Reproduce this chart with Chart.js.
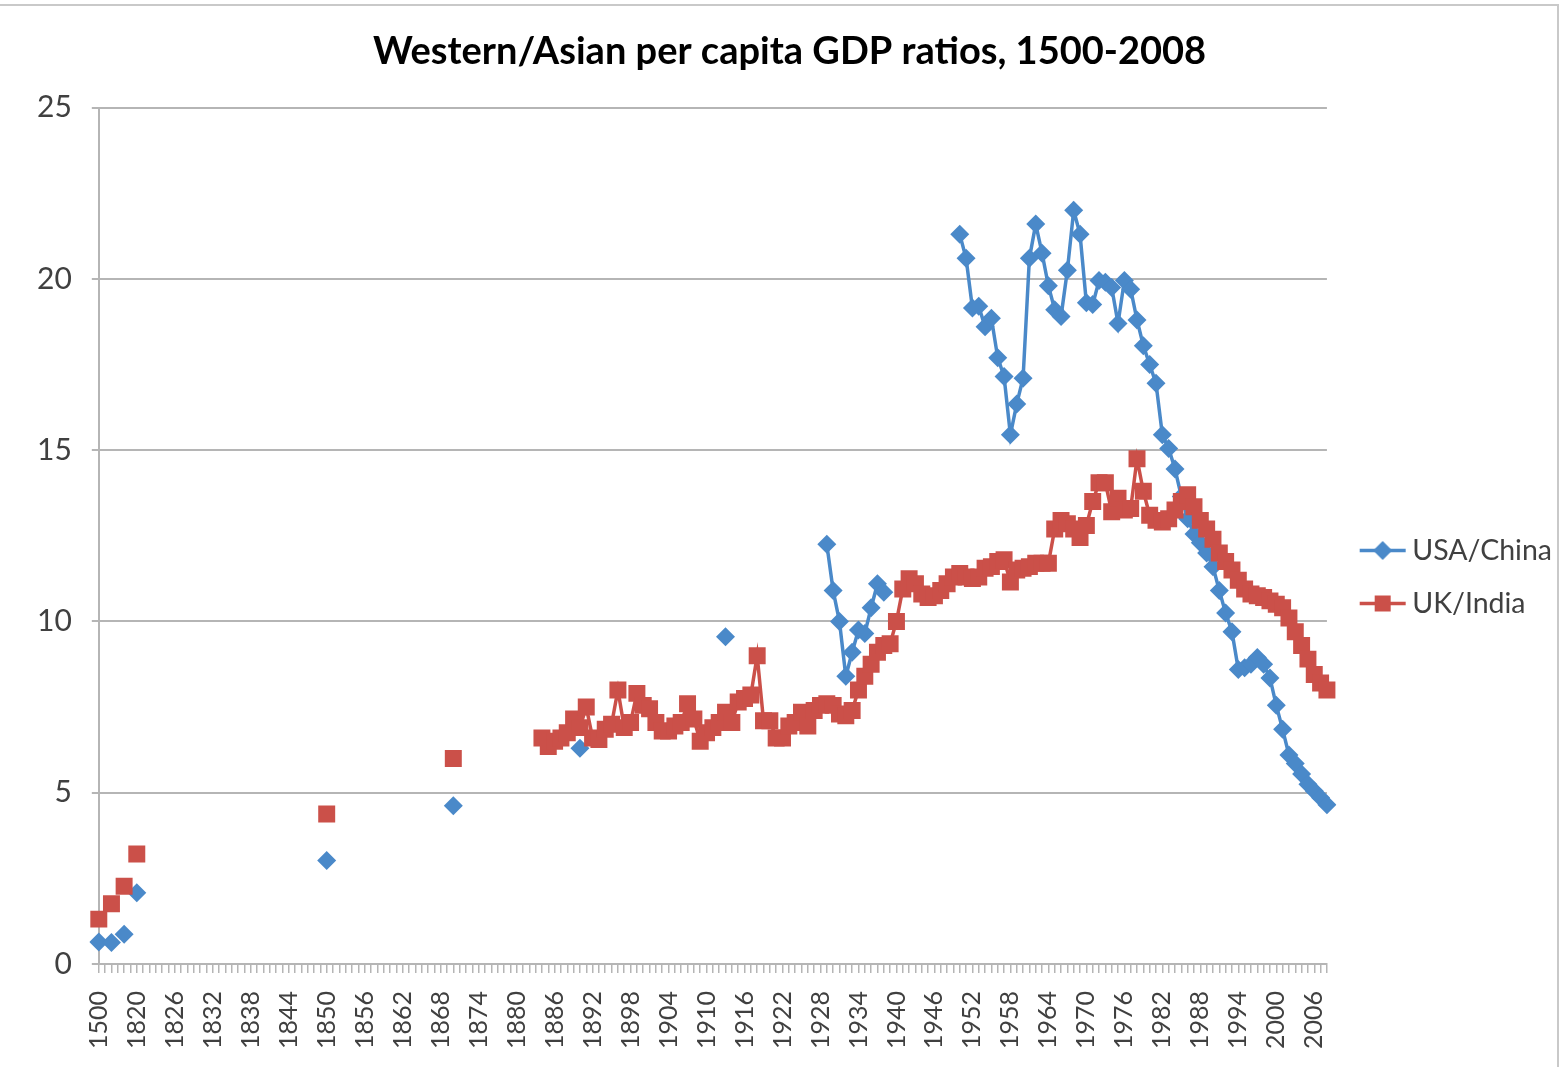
<!DOCTYPE html>
<html>
<head>
<meta charset="utf-8">
<title>Western/Asian per capita GDP ratios, 1500-2008</title>
<script src="https://cdn.jsdelivr.net/npm/chart.js@4.4.1/dist/chart.umd.min.js"></script>
<style>
  html, body { margin: 0; padding: 0; background: #fff; }
  #wrap { position: relative; width: 1563px; height: 1067px; overflow: hidden; }
  #frame { position: absolute; left: -4px; top: 4px; right: 4px; bottom: -4px; border: 2px solid #c9c9c9; pointer-events: none; }
</style>
</head>
<body>
<div id="wrap">
  <canvas id="gdpChart"></canvas>
  <div id="frame"></div>
</div>
<script>
// --- DATA ---
// the sheet keeps blank rows between the early benchmark years
const earlySlots = ['1500', '', '1600', '', '1700', ''];
const firstYear = 1820;
const lastYear = 2008;
const labelEvery = 6;
const yTicks = [0, 5, 10, 15, 20, 25];

const usChinaBenchYears = ['1500', '1600', '1700', '1820', '1850', '1870', '1890', '1913'];
const usChinaBench = [0.64, 0.63, 0.87, 2.08, 3.02, 4.62, 6.3, 9.55];
// 1929-1938
const usChina1929 = [12.25, 10.9, 10.0, 8.4, 9.1, 9.75, 9.65, 10.4, 11.1, 10.85];
// 1950-2008
const usChina1950 = [
    21.3, 20.6, 19.15, 19.2, 18.6, 18.85, 17.7, 17.15, 15.45, 16.35,
    17.1, 20.6, 21.6, 20.75, 19.8, 19.1, 18.9, 20.25, 22.0, 21.3,
    19.3, 19.25, 19.95, 19.9, 19.75, 18.7, 19.95, 19.7, 18.8, 18.05,
    17.5, 16.95, 15.45, 15.05, 14.45, 13.65, 13.0, 12.55, 12.3, 12.0,
    11.6, 10.9, 10.25, 9.7, 8.6, 8.65, 8.75, 8.95, 8.75, 8.35,
    7.55, 6.85, 6.1, 5.85, 5.55, 5.25, 5.05, 4.85, 4.65
];

const ukIndiaBenchYears = ['1500', '1600', '1700', '1820', '1850', '1870'];
const ukIndiaBench = [1.31, 1.76, 2.27, 3.21, 4.38, 6.0];
// 1884-2008
const ukIndia1884 = [
    6.6, 6.35, 6.5, 6.6, 6.75, 7.15, 6.9, 7.5, 6.6, 6.55,
    6.85, 7.0, 8.0, 6.9, 7.05, 7.9, 7.55, 7.45, 7.05, 6.8,
    6.8, 6.95, 7.05, 7.6, 7.15, 6.5, 6.75, 6.9, 7.05, 7.35,
    7.05, 7.65, 7.75, 7.85, 9.0, 7.1, 7.1, 6.6, 6.6, 6.95,
    7.05, 7.35, 6.95, 7.4, 7.55, 7.6, 7.55, 7.3, 7.25, 7.4,
    8.0, 8.4, 8.75, 9.1, 9.3, 9.35, 10.0, 10.95, 11.25, 11.1,
    10.8, 10.7, 10.75, 10.9, 11.1, 11.3, 11.4, 11.3, 11.25, 11.3,
    11.55, 11.6, 11.75, 11.8, 11.15, 11.5, 11.55, 11.6, 11.7, 11.7,
    11.7, 12.7, 12.95, 12.85, 12.7, 12.45, 12.8, 13.5, 14.05, 14.05,
    13.2, 13.6, 13.25, 13.3, 14.75, 13.8, 13.1, 12.95, 12.9, 13.0,
    13.25, 13.5, 13.7, 13.35, 12.95, 12.7, 12.4, 12.0, 11.75, 11.5,
    11.2, 10.95, 10.8, 10.75, 10.7, 10.6, 10.5, 10.4, 10.1, 9.7,
    9.3, 8.9, 8.45, 8.2, 8.0
];

const BLUE = '#4a89c9';
const RED = '#cb5049';
const FONT = 'Lato, "Open Sans", sans-serif';

// --- BUILD CATEGORY ROWS ---
const categories = earlySlots.slice();
for (let y = firstYear; y <= lastYear; y++) categories.push(String(y));

function emptyRow() {
    return categories.map(() => null);
}
function putYears(row, years, values) {
    years.forEach((y, i) => { row[categories.indexOf(String(y))] = values[i]; });
}
function putRun(row, startYear, values) {
    values.forEach((v, i) => { row[categories.indexOf(String(startYear + i))] = v; });
}

const usChina = emptyRow();
putYears(usChina, usChinaBenchYears, usChinaBench);
putRun(usChina, 1929, usChina1929);
putRun(usChina, 1950, usChina1950);

const ukIndia = emptyRow();
putYears(ukIndia, ukIndiaBenchYears, ukIndiaBench);
putRun(ukIndia, 1884, ukIndia1884);

// --- LEGEND ICONS (line with marker, like the sheet) ---
function legendIcon(color, shape) {
    const c = document.createElement('canvas');
    c.width = 68;
    c.height = 34;
    const g = c.getContext('2d');
    const cy = 16.5;
    g.strokeStyle = color;
    g.lineWidth = 3.5;
    g.beginPath();
    g.moveTo(19, cy);
    g.lineTo(65, cy);
    g.stroke();
    g.fillStyle = color;
    g.beginPath();
    if (shape === 'diamond') {
        g.moveTo(42, cy - 9.5); g.lineTo(51.5, cy); g.lineTo(42, cy + 9.5); g.lineTo(32.5, cy);
    } else {
        g.rect(34, cy - 8, 16, 16);
    }
    g.fill();
    return c;
}
const icons = [legendIcon(BLUE, 'diamond'), legendIcon(RED, 'square')];

// --- CHART ---
const ctx = document.getElementById('gdpChart').getContext('2d');
new Chart(ctx, {
    type: 'line',
    data: {
        labels: categories,
        datasets: [{
            label: 'USA/China',
            data: usChina,
            borderColor: BLUE,
            backgroundColor: BLUE,
            borderWidth: 3.5,
            pointStyle: 'rectRot',
            pointRadius: 9.5,
            pointBorderWidth: 0,
            pointBackgroundColor: BLUE,
            tension: 0,
            order: 1
        }, {
            label: 'UK/India',
            data: ukIndia,
            borderColor: RED,
            backgroundColor: RED,
            borderWidth: 3.5,
            pointStyle: 'rect',
            pointRadius: 12,
            pointBorderWidth: 0,
            pointBackgroundColor: RED,
            tension: 0,
            order: 0
        }]
    },
    options: {
        responsive: true,
        maintainAspectRatio: false,
        animation: false,
        layout: { padding: { top: 12, left: 17, right: 1, bottom: 0 } },
        plugins: {
            title: {
                display: true,
                text: 'Western/Asian per capita GDP ratios, 1500-2008',
                color: '#000',
                font: { family: FONT, size: 38, weight: 'bold' },
                padding: { top: 17, bottom: 33 }
            },
            legend: {
                position: 'right',
                // empty title only pushes the two entries down to mid-height
                title: { display: true, text: '', font: { size: 10 }, padding: { top: 32, bottom: 32 } },
                labels: {
                    usePointStyle: true,
                    pointStyleWidth: 46.5,
                    padding: 24.5,
                    color: '#404040',
                    font: { family: FONT, size: 28.5 },
                    generateLabels(chart) {
                        const items = Chart.defaults.plugins.legend.labels.generateLabels(chart);
                        items.sort((a, b) => a.datasetIndex - b.datasetIndex);
                        items.forEach(it => { it.pointStyle = icons[it.datasetIndex]; });
                        return items;
                    }
                }
            },
            tooltip: { enabled: false }
        },
        scales: {
            x: {
                grid: { display: true, drawOnChartArea: false, drawTicks: true, tickLength: 9, color: '#b5b5b5', lineWidth: 1.5 },
                border: { color: '#b5b5b5', width: 2 },
                ticks: {
                    autoSkip: false,
                    minRotation: 90,
                    maxRotation: 90,
                    padding: 18,
                    color: '#404040',
                    font: { family: FONT, size: 25 },
                    callback(value, index) {
                        return index % labelEvery === 0 ? this.getLabelForValue(value) : '';
                    }
                }
            },
            y: {
                min: 0,
                max: 25,
                afterBuildTicks(axis) { axis.ticks = yTicks.map(v => ({ value: v })); },
                grid: { color: '#b5b5b5', lineWidth: 2, tickLength: 7 },
                border: { color: '#b5b5b5', width: 2 },
                ticks: { padding: 20, color: '#404040', font: { family: FONT, size: 30 } }
            }
        }
    }
});
</script>
</body>
</html>
